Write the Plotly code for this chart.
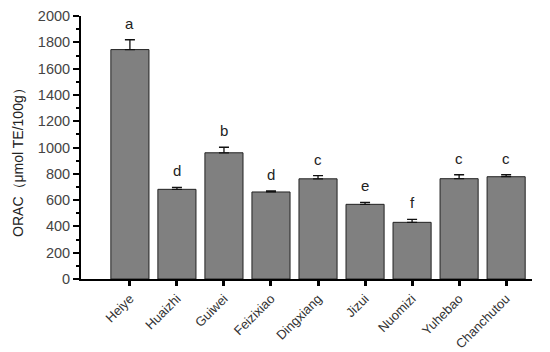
import plotly.graph_objects as go

categories = ["Heiye", "Huaizhi", "Guiwei", "Feizixiao", "Dingxiang", "Jizui", "Nuomizi", "Yuhebao", "Chanchutou"]
values = [1745, 682, 960, 662, 762, 568, 431, 763, 778]
errors = [75, 15, 42, 8, 24, 15, 22, 30, 15]
letters = ["a", "d", "b", "d", "c", "e", "f", "c", "c"]
y_title = "ORAC（μmol TE/100g）"

FONT = "Liberation Sans, Arial"

fig = go.Figure()
fig.add_trace(go.Bar(
    x=list(range(len(categories))), y=values,
    width=0.81,
    marker=dict(color="#808080", line=dict(color="#222222", width=1)),
    error_y=dict(type="data", array=errors, symmetric=False, arrayminus=[0]*len(errors),
                 color="#111111", thickness=1.3, width=5),
))
for i, (v, e, l) in enumerate(zip(values, errors, letters)):
    fig.add_annotation(x=i, y=v + e, text=l, showarrow=False, yanchor="bottom", yshift=6,
                       font=dict(family=FONT, size=15, color="#222222"))

fig.add_annotation(xref="paper", yref="paper", x=-0.14, y=0.456, text=y_title, textangle=-90,
                   showarrow=False, xanchor="center", yanchor="middle",
                   font=dict(family=FONT, size=14, color="#222222"))

# page body has an 8px default margin, so the figure is sized/offset to compensate
fig.update_layout(
    width=542, height=344, plot_bgcolor="white", paper_bgcolor="white",
    margin=dict(l=73, r=18, t=8, b=73, autoexpand=False), showlegend=False,
)
fig.update_xaxes(
    range=[-1.04, 8.55], tickmode="array", tickvals=list(range(len(categories))), ticktext=categories,
    tickangle=-45, showline=True, linecolor="black", linewidth=2, ticks="outside", ticklen=5,
    tickwidth=3, tickcolor="black", showgrid=False, zeroline=False, automargin=False,
    tickfont=dict(family=FONT, size=13, color="#333333"),
)
fig.update_yaxes(
    range=[0, 2000.5], tickmode="array", tickvals=list(range(0, 2001, 200)),
    showline=True, linecolor="black", linewidth=2, ticks="outside",
    ticklen=6, tickwidth=2, tickcolor="black", showgrid=False, zeroline=False, automargin=False,
    ticklabeloverflow="allow",
    minor=dict(dtick=100, ticks="outside", ticklen=3, tickwidth=1.5, tickcolor="black", showgrid=False),
    tickfont=dict(family=FONT, size=14.5, color="#444444"),
)
fig.write_html("out.html")
